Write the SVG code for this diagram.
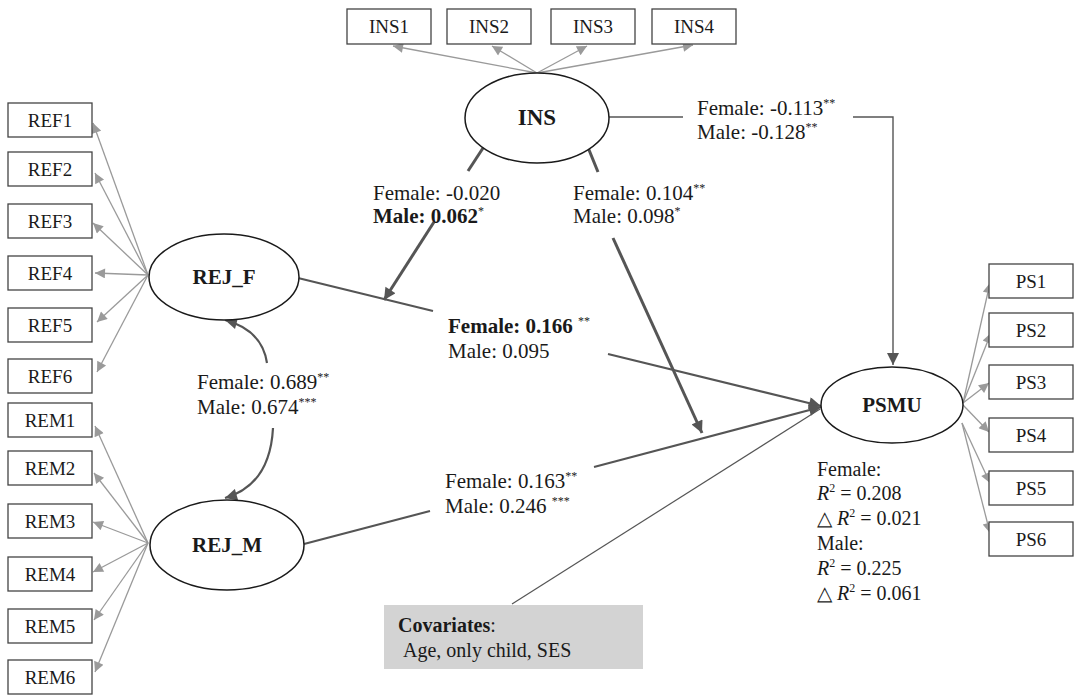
<svg xmlns="http://www.w3.org/2000/svg" width="1074" height="695" viewBox="0 0 1074 695">
<defs>
<style>
text{font-family:"Liberation Serif","Times New Roman",serif;fill:#1a1a1a}
.box{fill:#fff;stroke:#444;stroke-width:1.3}
.bl{font-size:19px;text-anchor:middle}
.ell{fill:#fff;stroke:#1a1a1a;stroke-width:1.5}
.el{font-size:21px;font-weight:bold;text-anchor:middle}
.lab{font-size:20px}
.pl{font-size:21px}
.b{font-weight:bold}
.sup{font-size:12px}
.ind{stroke:#9a9a9a;stroke-width:1.3;fill:none;marker-end:url(#ag)}
.thick{stroke:#555;stroke-width:3;fill:none}
.path{stroke:#555;stroke-width:2.2;fill:none}
.thin{stroke:#555;stroke-width:1.4;fill:none}
</style>
<marker id="ag" viewBox="0 0 10 10" refX="10" refY="5" markerWidth="13" markerHeight="10" markerUnits="userSpaceOnUse" orient="auto"><path d="M0,0 L10,5 L0,10 z" fill="#9a9a9a"/></marker>
<marker id="ad" viewBox="0 0 10 10" refX="10" refY="5" markerWidth="15" markerHeight="12" markerUnits="userSpaceOnUse" orient="auto"><path d="M0,0 L10,5 L0,10 z" fill="#555"/></marker>
</defs>
<rect width="1074" height="695" fill="#fff"/>

<g id="connectors">
<line class="ind" x1="537" y1="73" x2="393" y2="46"/>
<line class="ind" x1="537" y1="73" x2="492" y2="46"/>
<line class="ind" x1="537" y1="73" x2="587" y2="46"/>
<line class="ind" x1="537" y1="73" x2="693" y2="45"/>
<line class="ind" x1="148" y1="275" x2="93" y2="123"/>
<line class="ind" x1="148" y1="275" x2="95" y2="173"/>
<line class="ind" x1="148" y1="275" x2="93" y2="223"/>
<line class="ind" x1="148" y1="275" x2="95" y2="273"/>
<line class="ind" x1="148" y1="275" x2="97" y2="322"/>
<line class="ind" x1="148" y1="275" x2="97" y2="372"/>
<line class="ind" x1="148" y1="543" x2="95" y2="426"/>
<line class="ind" x1="148" y1="543" x2="94" y2="473"/>
<line class="ind" x1="148" y1="543" x2="93" y2="522"/>
<line class="ind" x1="148" y1="543" x2="93" y2="572"/>
<line class="ind" x1="148" y1="543" x2="94" y2="620"/>
<line class="ind" x1="148" y1="543" x2="95" y2="672"/>
<line class="ind" x1="963" y1="403" x2="990" y2="283"/>
<line class="ind" x1="963" y1="403" x2="991" y2="333"/>
<line class="ind" x1="963" y1="403" x2="989" y2="383"/>
<line class="ind" x1="963" y1="405" x2="989" y2="432"/>
<line class="ind" x1="962" y1="423" x2="990" y2="483"/>
<line class="ind" x1="962" y1="423" x2="990" y2="533"/>
<polyline class="thin" points="609,117 683,117"/>
<polyline class="thin" points="853,117 893,117 893,365" marker-end="url(#ad)"/>
<line class="thick" x1="485" y1="145" x2="468" y2="171"/>
<line class="thick" x1="434" y1="222" x2="384" y2="300" marker-end="url(#ad)"/>
<line class="thick" x1="587" y1="145" x2="598" y2="172"/>
<line class="thick" x1="613" y1="238" x2="702" y2="433" marker-end="url(#ad)"/>
<line class="path" x1="298" y1="278" x2="433" y2="311"/>
<line class="path" x1="608" y1="354" x2="821" y2="406" marker-end="url(#ad)"/>
<line class="path" x1="304" y1="544" x2="430" y2="511"/>
<line class="path" x1="594" y1="467" x2="821" y2="407" marker-end="url(#ad)"/>
<path class="path" d="M267,363 Q262,330 225,320" marker-end="url(#ad)"/>
<path class="path" d="M273,428 Q270,485 225,498" marker-end="url(#ad)"/>
<line stroke="#555" stroke-width="1.2" x1="512" y1="604" x2="820" y2="409"/>
</g>

<g id="INS1"><rect class="box" x="347" y="9" width="84" height="35"/><text class="bl" x="389" y="33">INS1</text></g>
<g id="INS2"><rect class="box" x="447" y="9" width="84" height="35"/><text class="bl" x="489" y="33">INS2</text></g>
<g id="INS3"><rect class="box" x="551" y="9" width="84" height="35"/><text class="bl" x="593" y="33">INS3</text></g>
<g id="INS4"><rect class="box" x="652" y="9" width="84" height="35"/><text class="bl" x="694" y="33">INS4</text></g>

<g id="INS"><ellipse class="ell" cx="537" cy="118" rx="72" ry="45"/><text class="el" x="537" y="125" style="font-size:23px">INS</text></g>
<g id="REJ_F"><ellipse class="ell" cx="224" cy="277" rx="75" ry="43"/><text class="el" x="224" y="284">REJ_F</text></g>
<g id="REJ_M"><ellipse class="ell" cx="227" cy="545" rx="77" ry="45"/><text class="el" x="227" y="552">REJ_M</text></g>
<g id="PSMU"><ellipse class="ell" cx="892" cy="405" rx="71" ry="38"/><text class="el" x="892" y="412">PSMU</text></g>

<g id="REF1"><rect class="box" x="8" y="103" width="84" height="34"/><text class="bl" x="50" y="127">REF1</text></g>
<g id="REF2"><rect class="box" x="8" y="152" width="84" height="34"/><text class="bl" x="50" y="176">REF2</text></g>
<g id="REF3"><rect class="box" x="8" y="204" width="84" height="34"/><text class="bl" x="50" y="228">REF3</text></g>
<g id="REF4"><rect class="box" x="8" y="256" width="84" height="34"/><text class="bl" x="50" y="280">REF4</text></g>
<g id="REF5"><rect class="box" x="8" y="308" width="84" height="34"/><text class="bl" x="50" y="332">REF5</text></g>
<g id="REF6"><rect class="box" x="8" y="359" width="84" height="34"/><text class="bl" x="50" y="383">REF6</text></g>
<g id="REM1"><rect class="box" x="8" y="403" width="84" height="34"/><text class="bl" x="50" y="427">REM1</text></g>
<g id="REM2"><rect class="box" x="8" y="451" width="84" height="34"/><text class="bl" x="50" y="475">REM2</text></g>
<g id="REM3"><rect class="box" x="8" y="504" width="84" height="34"/><text class="bl" x="50" y="528">REM3</text></g>
<g id="REM4"><rect class="box" x="8" y="557" width="84" height="34"/><text class="bl" x="50" y="581">REM4</text></g>
<g id="REM5"><rect class="box" x="8" y="609" width="84" height="34"/><text class="bl" x="50" y="633">REM5</text></g>
<g id="REM6"><rect class="box" x="8" y="660" width="84" height="34"/><text class="bl" x="50" y="684">REM6</text></g>

<g id="PS1"><rect class="box" x="989" y="264" width="84" height="34"/><text class="bl" x="1031" y="288">PS1</text></g>
<g id="PS2"><rect class="box" x="989" y="313" width="84" height="34"/><text class="bl" x="1031" y="337">PS2</text></g>
<g id="PS3"><rect class="box" x="989" y="365" width="84" height="34"/><text class="bl" x="1031" y="389">PS3</text></g>
<g id="PS4"><rect class="box" x="989" y="418" width="84" height="34"/><text class="bl" x="1031" y="442">PS4</text></g>
<g id="PS5"><rect class="box" x="989" y="471" width="84" height="34"/><text class="bl" x="1031" y="495">PS5</text></g>
<g id="PS6"><rect class="box" x="989" y="522" width="84" height="34"/><text class="bl" x="1031" y="546">PS6</text></g>

<g id="labels">
<text class="pl" x="697" y="115">Female: -0.113<tspan class="sup" dy="-8">**</tspan></text>
<text class="pl" x="697" y="139">Male: -0.128<tspan class="sup" dy="-8">**</tspan></text>
<text class="pl" x="373" y="200">Female: -0.020</text>
<text class="pl b" x="373" y="223">Male: 0.062<tspan class="sup" dy="-8" font-weight="normal">*</tspan></text>
<text class="pl" x="573" y="200">Female: 0.104<tspan class="sup" dy="-8">**</tspan></text>
<text class="pl" x="573" y="223">Male: 0.098<tspan class="sup" dy="-8">*</tspan></text>
<text class="pl" x="448" y="333"><tspan class="b">Female: 0.166 </tspan><tspan class="sup" dy="-8">**</tspan></text>
<text class="pl" x="448" y="358">Male: 0.095</text>
<text class="pl" x="197" y="389">Female: 0.689<tspan class="sup" dy="-8">**</tspan></text>
<text class="pl" x="197" y="414">Male: 0.674<tspan class="sup" dy="-8">***</tspan></text>
<text class="pl" x="445" y="488">Female: 0.163<tspan class="sup" dy="-8">**</tspan></text>
<text class="pl" x="445" y="513">Male: 0.246 <tspan class="sup" dy="-8">***</tspan></text>
<text class="lab" x="817" y="476">Female:</text>
<text class="lab" x="817" y="500"><tspan font-style="italic">R</tspan><tspan class="sup" dy="-8">2</tspan><tspan dy="8"> = 0.208</tspan></text>
<text class="lab" x="817" y="525">△ <tspan font-style="italic">R</tspan><tspan class="sup" dy="-8">2</tspan><tspan dy="8"> = 0.021</tspan></text>
<text class="lab" x="817" y="550">Male:</text>
<text class="lab" x="817" y="575"><tspan font-style="italic">R</tspan><tspan class="sup" dy="-8">2</tspan><tspan dy="8"> = 0.225</tspan></text>
<text class="lab" x="817" y="600">△ <tspan font-style="italic">R</tspan><tspan class="sup" dy="-8">2</tspan><tspan dy="8"> = 0.061</tspan></text>
</g>

<g id="covariates">
<rect x="384" y="605" width="259" height="64" fill="#d3d3d3"/>
<text class="lab" x="398" y="632"><tspan class="b">Covariates</tspan>:</text>
<text class="lab" x="403" y="657">Age, only child, SES</text>
</g>
</svg>
